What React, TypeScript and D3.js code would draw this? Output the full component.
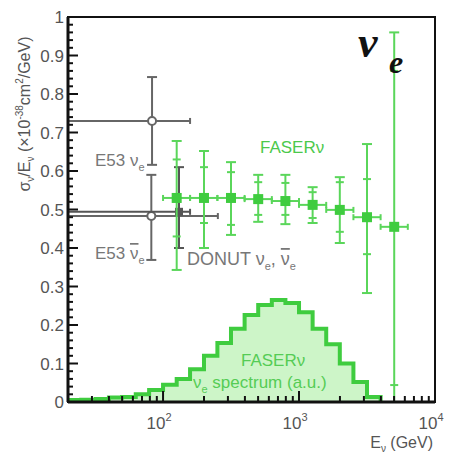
import React, { useEffect, useRef } from 'react';
import * as d3 from 'd3';

// FASERnu nu_e cross section points (x in GeV, y in 1e-38 cm^2/GeV)
const faserE = [126, 200, 316, 501, 794, 1259, 1995, 3162, 5012];
const faserBinLo = [100, 158, 251, 398, 631, 1000, 1585, 2512, 3981];
const faserBinHi = [158, 251, 398, 631, 1000, 1585, 2512, 3981, 6310];
const faserY = [0.53, 0.53, 0.53, 0.527, 0.522, 0.512, 0.499, 0.48, 0.455];
const faserTotHi = [0.678, 0.652, 0.623, 0.59, 0.59, 0.558, 0.584, 0.67, 0.96];
const faserTotLo = [0.343, 0.4, 0.434, 0.468, 0.462, 0.465, 0.413, 0.283, 0.0];
const faserStatHi = [0.63, 0.61, 0.597, 0.571, 0.569, 0.545, 0.571, 0.579, 0.86];
const faserStatLo = [0.43, 0.465, 0.46, 0.486, 0.486, 0.478, 0.442, 0.384, 0.044];

// older measurements
const oldNames = ['E53 nu', 'E53 nubar', 'DONUT'];
const oldE = [83, 82, 131];
const oldY = [0.73, 0.483, 0.494];
const oldXLo = [10, 10, 10];
const oldXHi = [158, 253, 158];
const oldYLo = [0.616, 0.369, 0.4];
const oldYHi = [0.844, 0.59, 0.61];

// nu_e spectrum histogram (arbitrary units)
const specEdges = [20, 25, 32, 40, 50, 63, 79, 100, 126, 158, 200, 251, 316, 398, 501, 631, 794, 1000, 1259, 1585, 1995, 2512, 3162, 3981];
const specVals = [0.005, 0.006, 0.008, 0.012, 0.013, 0.02, 0.031, 0.045, 0.06, 0.085, 0.12, 0.153, 0.19, 0.226, 0.252, 0.265, 0.257, 0.233, 0.19, 0.15, 0.1, 0.052, 0.013];

const yTicks = [0, 0.1, 0.2, 0.3, 0.4, 0.5, 0.6, 0.7, 0.8, 0.9, 1];
const xTicks = [100, 1000, 10000];
const xTickExp = ['2', '3', '4'];

const W = 449;
const H = 457;
const GREEN = '#3fcc3f';
const GREEN_BAR = '#5ad65a';
const GRAY = '#666';
const FONT = '"Liberation Sans", Arial, sans-serif';
const SERIF = '"Liberation Serif", "DejaVu Serif", serif';

const App: React.FC = () => {
  const svgRef = useRef<SVGSVGElement>(null);

  useEffect(() => {
    if (!svgRef.current) return;
    const svg = d3.select(svgRef.current);
    svg.selectAll('*').remove();

    const x = d3.scaleLog().domain([20, 10000]).range([68, 435]);
    const y = d3.scaleLinear().domain([0, 1]).range([402, 17]);
    const [x0, x1] = x.range();
    const [y0, y1] = y.range();

    svg.append('clipPath').attr('id', 'plotclip')
      .append('rect').attr('x', x0).attr('y', y1).attr('width', x1 - x0).attr('height', y0 - y1);

    const plot = svg.append('g').attr('clip-path', 'url(#plotclip)');

    // spectrum histogram
    const specPts: [number, number][] = [[specEdges[0], 0]];
    specVals.forEach((v, i) => {
      specPts.push([specEdges[i], v]);
      specPts.push([specEdges[i + 1], v]);
    });
    specPts.push([specEdges[specEdges.length - 1], 0]);
    const area = d3.area<[number, number]>().x(d => x(d[0])).y0(y(0)).y1(d => y(d[1]));
    const line = d3.line<[number, number]>().x(d => x(d[0])).y(d => y(d[1]));
    plot.append('path').attr('d', area(specPts)).attr('fill', '#cdf5c8');
    plot.append('path').attr('d', line(specPts)).attr('fill', 'none')
      .attr('stroke', GREEN).attr('stroke-width', 4).attr('stroke-linejoin', 'miter');

    // old measurements
    oldE.forEach((e, i) => {
      const col = i === 2 ? '#555' : GRAY;
      const g = plot.append('g').attr('stroke', col).attr('stroke-width', 2).attr('fill', 'none');
      g.append('line').attr('x1', x(oldXLo[i])).attr('x2', x(oldXHi[i])).attr('y1', y(oldY[i])).attr('y2', y(oldY[i]));
      g.append('line').attr('x1', x(oldXHi[i])).attr('x2', x(oldXHi[i])).attr('y1', y(oldY[i]) - 3).attr('y2', y(oldY[i]) + 3);
      g.append('line').attr('x1', x(e)).attr('x2', x(e)).attr('y1', y(oldYLo[i])).attr('y2', y(oldYHi[i]));
      g.append('line').attr('x1', x(e) - 5).attr('x2', x(e) + 5).attr('y1', y(oldYHi[i])).attr('y2', y(oldYHi[i]));
      g.append('line').attr('x1', x(e) - 5).attr('x2', x(e) + 5).attr('y1', y(oldYLo[i])).attr('y2', y(oldYLo[i]));
      if (oldNames[i] === 'DONUT') {
        g.append('rect').attr('x', x(e) - 4).attr('y', y(oldY[i]) - 4).attr('width', 8).attr('height', 8)
          .attr('fill', '#555').attr('stroke', 'none');
      } else {
        g.append('circle').attr('cx', x(e)).attr('cy', y(oldY[i])).attr('r', 4).attr('fill', '#fff');
      }
    });

    // FASERnu points
    faserE.forEach((e, i) => {
      const g = plot.append('g').attr('stroke', GREEN_BAR).attr('stroke-width', 2);
      const cx = x(e);
      const cy = y(faserY[i]);
      g.append('line').attr('x1', cx).attr('x2', cx).attr('y1', y(faserTotLo[i])).attr('y2', y(faserTotHi[i]));
      [faserTotLo[i], faserTotHi[i], faserStatLo[i], faserStatHi[i]].forEach((v, k) => {
        const hw = k < 2 ? 5 : 4;
        g.append('line').attr('x1', cx - hw).attr('x2', cx + hw).attr('y1', y(v)).attr('y2', y(v));
      });
      g.append('line').attr('x1', x(faserBinLo[i])).attr('x2', x(faserBinHi[i])).attr('y1', cy).attr('y2', cy);
      [faserBinLo[i], faserBinHi[i]].forEach(b => {
        g.append('line').attr('x1', x(b)).attr('x2', x(b)).attr('y1', cy - 3).attr('y2', cy + 3);
      });
      plot.append('rect').attr('x', cx - 5).attr('y', cy - 5).attr('width', 10).attr('height', 10).attr('fill', GREEN);
    });

    // frame
    svg.append('rect').attr('x', x0).attr('y', y1).attr('width', x1 - x0).attr('height', y0 - y1)
      .attr('fill', 'none').attr('stroke', '#111').attr('stroke-width', 2);
    svg.append('line').attr('x1', x0).attr('x2', x0).attr('y1', y1).attr('y2', y0)
      .attr('stroke', '#111').attr('stroke-width', 3);
    svg.append('line').attr('x1', x0).attr('x2', x1).attr('y1', y0).attr('y2', y0)
      .attr('stroke', '#111').attr('stroke-width', 3);

    // y ticks
    const yMinor = d3.range(0, 1.0001, 0.02);
    svg.append('g').selectAll('line').data(yMinor).enter().append('line')
      .attr('x1', x0).attr('x2', d => x0 + (Math.abs(d * 10 - Math.round(d * 10)) < 1e-6 ? 10 : 5))
      .attr('y1', d => y(d)).attr('y2', d => y(d))
      .attr('stroke', '#111').attr('stroke-width', 2);
    svg.append('g').selectAll('text').data(yTicks).enter().append('text')
      .attr('x', 64).attr('y', d => y(d)).attr('dy', '0.36em')
      .attr('text-anchor', 'end').attr('fill', '#555')
      .style('font-family', FONT).style('font-size', '17px')
      .text(d => (d === 0 || d === 1 ? String(d) : d.toFixed(1)));

    // x ticks
    const xMinor: number[] = [];
    [10, 100, 1000].forEach(dec => d3.range(2, 10).forEach(m => { if (dec * m >= 20) xMinor.push(dec * m); }));
    svg.append('g').selectAll('line').data(xMinor).enter().append('line')
      .attr('x1', d => x(d)).attr('x2', d => x(d)).attr('y1', y0).attr('y2', y0 - 6)
      .attr('stroke', '#111').attr('stroke-width', 2);
    svg.append('g').selectAll('line').data(xTicks.slice(0, 2)).enter().append('line')
      .attr('x1', d => x(d)).attr('x2', d => x(d)).attr('y1', y0).attr('y2', y0 - 11)
      .attr('stroke', '#111').attr('stroke-width', 2);
    const xl = svg.append('g').selectAll('text').data(xTicks).enter().append('text')
      .attr('x', d => x(d) - 4).attr('y', 429).attr('text-anchor', 'middle').attr('fill', '#555')
      .style('font-family', FONT).style('font-size', '17px');
    xl.append('tspan').text('10');
    xl.append('tspan').attr('dy', -8).style('font-size', '11px').text((d, i) => xTickExp[i]);

    // axis titles
    const xt = svg.append('text').attr('x', 433).attr('y', 448).attr('text-anchor', 'end').attr('fill', '#555')
      .style('font-family', FONT).style('font-size', '16px');
    xt.append('tspan').text('E');
    xt.append('tspan').attr('dy', 4).style('font-size', '10px').text('ν');
    xt.append('tspan').attr('dy', -4).text(' (GeV)');

    const yt = svg.append('text').attr('transform', 'translate(30,114) rotate(-90)')
      .attr('text-anchor', 'middle').attr('fill', '#555')
      .style('font-family', FONT).style('font-size', '16px');
    yt.append('tspan').text('σ');
    yt.append('tspan').attr('dy', 4).style('font-size', '10px').text('ν');
    yt.append('tspan').attr('dy', -4).text('/E');
    yt.append('tspan').attr('dy', 4).style('font-size', '10px').text('ν');
    yt.append('tspan').attr('dy', -4).text(' (×10');
    yt.append('tspan').attr('dy', -7).style('font-size', '10px').text('-38');
    yt.append('tspan').attr('dy', 7).text('cm');
    yt.append('tspan').attr('dy', -7).style('font-size', '10px').text('2');
    yt.append('tspan').attr('dy', 7).text('/GeV)');

    // labels
    const lab = (tx: number, ty: number, col: string, size: number) =>
      svg.append('text').attr('x', tx).attr('y', ty).attr('fill', col)
        .style('font-family', FONT).style('font-size', `${size}px`);

    const l1 = lab(95, 166, '#777', 17);
    l1.append('tspan').text('E53 ν');
    l1.append('tspan').attr('dy', 5).style('font-size', '11px').text('e');

    const l2 = lab(95, 259, '#777', 17);
    l2.append('tspan').text('E53 ');
    l2.append('tspan').style('text-decoration', 'overline').text('ν');
    l2.append('tspan').attr('dy', 5).style('font-size', '11px').text('e');

    const l3 = lab(187, 265, '#777', 18);
    l3.append('tspan').text('DONUT ν');
    l3.append('tspan').attr('dy', 5).style('font-size', '11px').text('e');
    l3.append('tspan').attr('dy', -5).text(', ');
    l3.append('tspan').style('text-decoration', 'overline').text('ν');
    l3.append('tspan').attr('dy', 5).style('font-size', '11px').text('e');

    lab(260, 153, '#4cc94c', 17).text('FASERν');
    lab(241, 366, '#55cc55', 17).text('FASERν');
    const l5 = lab(193, 388, '#55cc55', 17);
    l5.append('tspan').text('ν');
    l5.append('tspan').attr('dy', 5).style('font-size', '11px').text('e');
    l5.append('tspan').attr('dy', -5).text(' spectrum (a.u.)');

    // big nu_e
    svg.append('text').attr('x', 358).attr('y', 57).attr('fill', '#111')
      .style('font-family', SERIF).style('font-size', '44px')
      .style('font-weight', 'bold').style('font-style', 'italic').text('ν');
    svg.append('text').attr('x', 389).attr('y', 73).attr('fill', '#111')
      .style('font-family', SERIF).style('font-size', '32px')
      .style('font-weight', 'bold').style('font-style', 'italic').text('e');
  }, []);

  return (
    <div style={{ position: 'absolute', left: 0, top: 0, width: W, height: H, background: '#fff' }}>
      <svg ref={svgRef} width={W} height={H} />
    </div>
  );
};

export default App;
